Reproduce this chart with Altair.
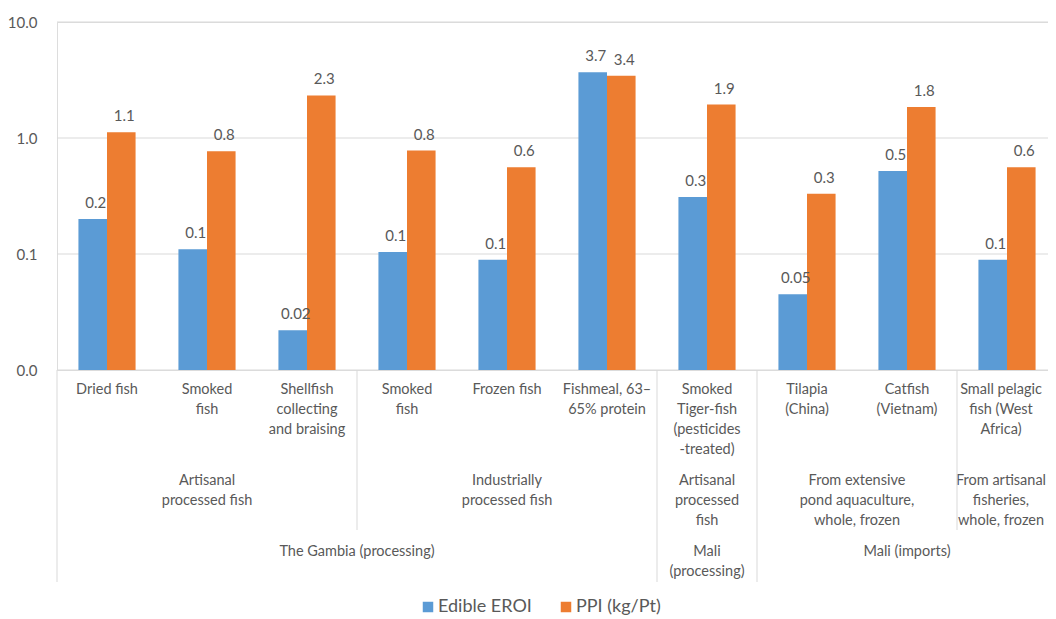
import altair as alt
import pandas as pd

# ---- data ----
category_labels = [
    "Dried fish",
    "Smoked\nfish",
    "Shellfish\ncollecting\nand braising",
    "Smoked\nfish",
    "Frozen fish",
    "Fishmeal, 63–\n65% protein",
    "Smoked\nTiger-fish\n(pesticides\n-treated)",
    "Tilapia\n(China)",
    "Catfish\n(Vietnam)",
    "Small pelagic\nfish (West\nAfrica)",
]
category_ids = ["c00", "c01", "c02", "c03", "c04", "c05", "c06", "c07", "c08", "c09"]

edible_eroi = [0.2, 0.11, 0.022, 0.104, 0.089, 3.68, 0.31, 0.045, 0.52, 0.089]
ppi_kg_pt = [1.12, 0.77, 2.33, 0.78, 0.56, 3.44, 1.94, 0.33, 1.85, 0.56]
edible_text = ["0.2", "0.1", "0.02", "0.1", "0.1", "3.7", "0.3", "0.05", "0.5", "0.1"]
ppi_text = ["1.1", "0.8", "2.3", "0.8", "0.6", "3.4", "1.9", "0.3", "1.8", "0.6"]

series_names = ["Edible EROI", "PPI (kg/Pt)"]
series_colors = ["#5B9BD5", "#ED7D31"]

level1_labels = [
    "Artisanal\nprocessed fish",
    "Industrially\nprocessed fish",
    "Artisanal\nprocessed\nfish",
    "From extensive\npond aquaculture,\nwhole, frozen",
    "From artisanal\nfisheries,\nwhole, frozen",
]
level1_anchor = [1, 4, 6, 7, 9]
level1_at_edge = [False, False, False, True, False]

level2_labels = ["The Gambia (processing)", "Mali\n(processing)", "Mali (imports)"]
level2_anchor = [2, 6, 8]
level2_at_edge = [True, False, False]

divider_anchor = [0, 3, 6, 7, 9, 9]
divider_at_edge = [False, False, False, False, False, True]
divider_long = [True, False, True, True, False, True]

y_ticks = [0.01, 0.1, 1, 10]
y_floor = 0.01

# ---- styling ----
FONT = "Lato"
TXT = "#595959"
GRID = "#D9D9D9"
PLOT_H = 348
PLOT_W = 991          # visible plot width (svg ends at the page edge)
BAND_RANGE = 1000     # categories keep 100 px each; the last one runs past the edge
FS = 14.5
LAST = len(category_ids) - 1   # rightmost column, nudged left so its text stays visible
NUDGE = -6

bars_df = pd.DataFrame({
    "cat": category_ids * 2,
    "series": [series_names[0]] * len(category_ids) + [series_names[1]] * len(category_ids),
    "value": edible_eroi + ppi_kg_pt,
    "label": edible_text + ppi_text,
})

grid_df = pd.DataFrame({"tick": y_ticks})

def rows_for(labels, anchors, flags, want_edge, want_last):
    rows = [{"cat": category_ids[a], "text": t}
            for t, a, f in zip(labels, anchors, flags)
            if f == want_edge and (a == LAST) == want_last]
    return pd.DataFrame(rows, columns=["cat", "text"])

x_main = alt.X(
    "cat:N", sort=category_ids,
    scale=alt.Scale(paddingInner=0, paddingOuter=0, range=[0, BAND_RANGE]),
    axis=alt.Axis(labels=False, ticks=False, domain=False, grid=False, title=None),
)

y_scale = alt.Scale(type="log", domain=[0.01, 10], nice=False)

gridlines = alt.Chart(grid_df).mark_rule(color=GRID, strokeWidth=1).encode(
    y=alt.Y("tick:Q", scale=y_scale,
            axis=alt.Axis(values=y_ticks, format=".1f", title=None, grid=False,
                          domain=False, ticks=False, labelPadding=20,
                          labelFontSize=15, labelColor=TXT, labelFont=FONT)),
    x=alt.value(0),
    x2=alt.value(BAND_RANGE),
)

bars = alt.Chart(bars_df).mark_bar().encode(
    x=x_main,
    xOffset=alt.XOffset("series:N", sort=series_names,
                        scale=alt.Scale(paddingInner=0, paddingOuter=0.75)),
    y=alt.Y("value:Q", stack=None, scale=y_scale),
    y2=alt.Y2(datum=y_floor),
    color=alt.Color("series:N", sort=series_names,
                    scale=alt.Scale(domain=series_names, range=series_colors),
                    legend=alt.Legend(orient="none", legendX=362, legendY=576,
                                      direction="horizontal", title=None,
                                      symbolType="square", symbolSize=110,
                                      symbolStrokeWidth=0, labelFontSize=18,
                                      labelColor=TXT, labelFont=FONT,
                                      columnPadding=25, labelOffset=1)),
)

bar_labels = alt.Chart(bars_df).mark_text(
    dy=-16, dx=3, fontSize=15, color=TXT, font=FONT
).encode(
    x=alt.X("cat:N", sort=category_ids),
    xOffset=alt.XOffset("series:N", sort=series_names),
    y=alt.Y("value:Q", stack=None),
    text="label:N",
)

def text_layer_top(df, y_px, edge, dx=0):
    return alt.Chart(df).mark_text(
        lineBreak="\n", baseline="top", align="center", fontSize=FS,
        color=TXT, font=FONT, lineHeight=20, dx=dx,
    ).encode(
        x=alt.X("cat:N", sort=category_ids, bandPosition=1 if edge else 0.5),
        y=alt.value(y_px),
        text="text:N",
    )

all_idx = list(range(len(category_ids)))
no_edge = [False] * len(category_ids)

layers_text = []
# level 0: category names
layers_text.append(text_layer_top(rows_for(category_labels, all_idx, no_edge, False, False), 361, False))
layers_text.append(text_layer_top(rows_for(category_labels, all_idx, no_edge, False, True), 361, False, NUDGE))
# level 1
layers_text.append(text_layer_top(rows_for(level1_labels, level1_anchor, level1_at_edge, False, False), 452, False))
layers_text.append(text_layer_top(rows_for(level1_labels, level1_anchor, level1_at_edge, False, True), 452, False, NUDGE))
layers_text.append(text_layer_top(rows_for(level1_labels, level1_anchor, level1_at_edge, True, False), 452, True))
# level 2
layers_text.append(text_layer_top(rows_for(level2_labels, level2_anchor, level2_at_edge, False, False), 523, False))
layers_text.append(text_layer_top(rows_for(level2_labels, level2_anchor, level2_at_edge, True, False), 523, True))

def divider_layer(edge, long):
    rows = [{"cat": category_ids[a]} for a, e, l in zip(divider_anchor, divider_at_edge, divider_long)
            if e == edge and l == long]
    df = pd.DataFrame(rows, columns=["cat"])
    return alt.Chart(df).mark_rule(color=GRID, strokeWidth=1).encode(
        x=alt.X("cat:N", sort=category_ids, bandPosition=1 if edge else 0),
        y=alt.value(PLOT_H),
        y2=alt.value(560 if long else 508),
    )

dividers = [divider_layer(False, True), divider_layer(False, False), divider_layer(True, True)]

chart = alt.layer(
    gridlines, bars, bar_labels, *layers_text, *dividers
).properties(
    width=PLOT_W, height=PLOT_H,
    autosize=alt.AutoSizeParams(type="none"),
    padding={"left": 49, "top": 14, "right": 0, "bottom": 249},
).configure_view(stroke=None).configure(background="white")

chart.save("out.html", embed_options={"renderer": "svg", "actions": False})
